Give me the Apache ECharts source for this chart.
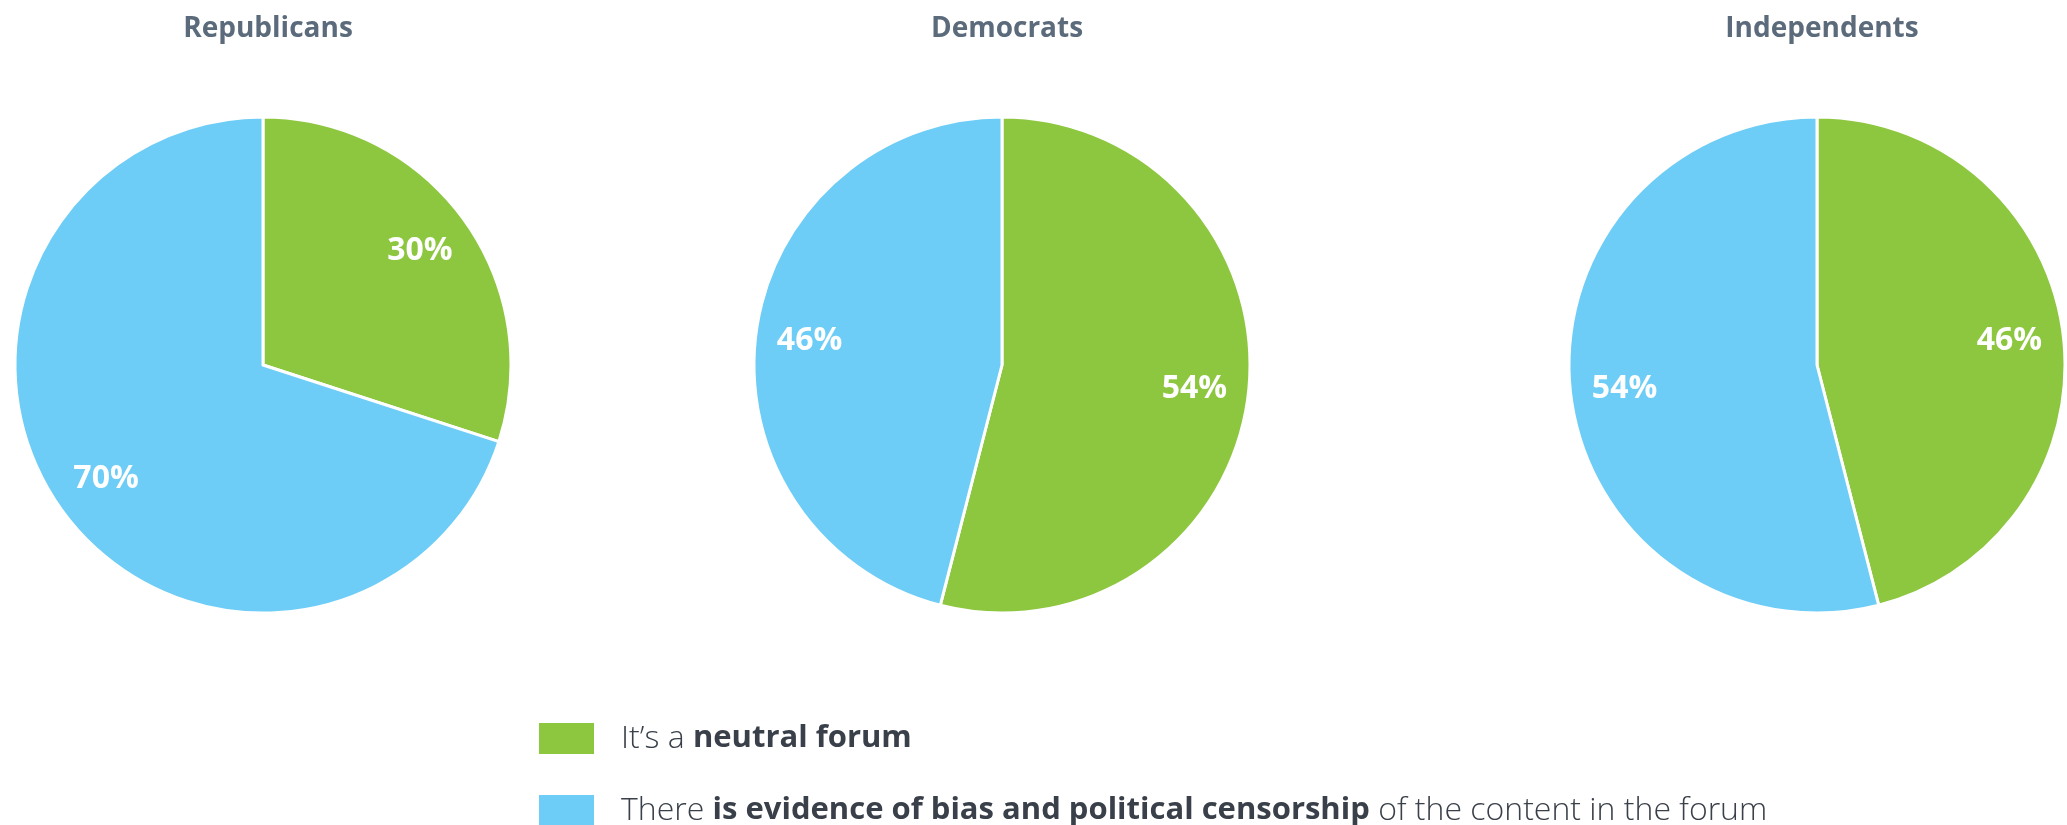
<!DOCTYPE html>
<html>
<head>
<meta charset="utf-8">
<script src="https://cdn.jsdelivr.net/npm/echarts@6/dist/echarts.min.js"></script>
<style>
html,body{margin:0;padding:0;background:#fff;}
#chart{width:2067px;height:825px;}
</style>
</head>
<body>
<div id="chart"></div>
<script>
// ---- data ----
const groups = ['Republicans', 'Democrats', 'Independents'];
const categories = ['neutral', 'bias'];
const neutralValues = [30, 54, 46];
const biasValues = [70, 46, 54];
const legendLabels = {
  neutral: "{l|It\u2019s a }{b|neutral forum}",
  bias: "{l|There }{b|is evidence of bias and political censorship}{l| of the content in the forum}"
};

// ---- style ----
const colors = { neutral: '#8DC63F', bias: '#6DCDF6' };
const centersX = [263, 1002, 1817];
const centerY = 365;
const R = 248;
const FONT = '"Open Sans", "Noto Sans", sans-serif';
const legendTops = [716, 788];

const chart = echarts.init(document.getElementById('chart'), null, { renderer: 'canvas' });

const series = [];
const titles = [];
groups.forEach((g, i) => {
  const data = [
    { name: categories[0], value: neutralValues[i], itemStyle: { color: colors.neutral } },
    { name: categories[1], value: biasValues[i], itemStyle: { color: colors.bias } }
  ];
  titles.push({
    text: g,
    left: centersX[i],
    top: 10,
    textAlign: 'center',
    textStyle: { fontFamily: FONT, fontWeight: 'bold', fontSize: 28, color: '#5B6B7B' }
  });
  series.push({
    type: 'pie',
    center: [centersX[i], centerY],
    radius: [0, R],
    startAngle: 90,
    clockwise: true,
    silent: true,
    label: { show: false },
    labelLine: { show: false },
    itemStyle: { borderColor: '#ffffff', borderWidth: 3 },
    emphasis: { disabled: true },
    data: data
  });
  // transparent label-carrier ring so labels sit at ~0.77 of the radius
  series.push({
    type: 'pie',
    center: [centersX[i], centerY],
    radius: [R * 0.54, R],
    startAngle: 90,
    clockwise: true,
    silent: true,
    legendHoverLink: false,
    itemStyle: { color: 'rgba(0,0,0,0)', borderWidth: 0 },
    emphasis: { disabled: true },
    labelLine: { show: false },
    label: {
      show: true,
      position: 'inside',
      formatter: p => p.value + '%',
      color: '#ffffff',
      fontFamily: FONT,
      fontWeight: 'bold',
      fontSize: 32
    },
    data: data.map(d => ({ name: d.name, value: d.value }))
  });
});

const legends = categories.map((c, k) => ({
  orient: 'vertical',
  left: 532,
  top: legendTops[k],
  itemWidth: 57,
  itemHeight: 33,
  icon: 'rect',
  selectedMode: false,
  data: [{ name: c, itemStyle: { color: colors[c] } }],
  formatter: name => legendLabels[name],
  textStyle: {
    padding: [0, 0, 0, 21],
    rich: {
      l: { fontFamily: FONT, fontWeight: 300, fontSize: 32, color: '#3A4049' },
      b: { fontFamily: FONT, fontWeight: 'bold', fontSize: 31, color: '#3A4049' }
    }
  }
}));

chart.setOption({
  animation: false,
  backgroundColor: '#ffffff',
  title: titles,
  legend: legends,
  series: series
});
</script>
</body>
</html>
